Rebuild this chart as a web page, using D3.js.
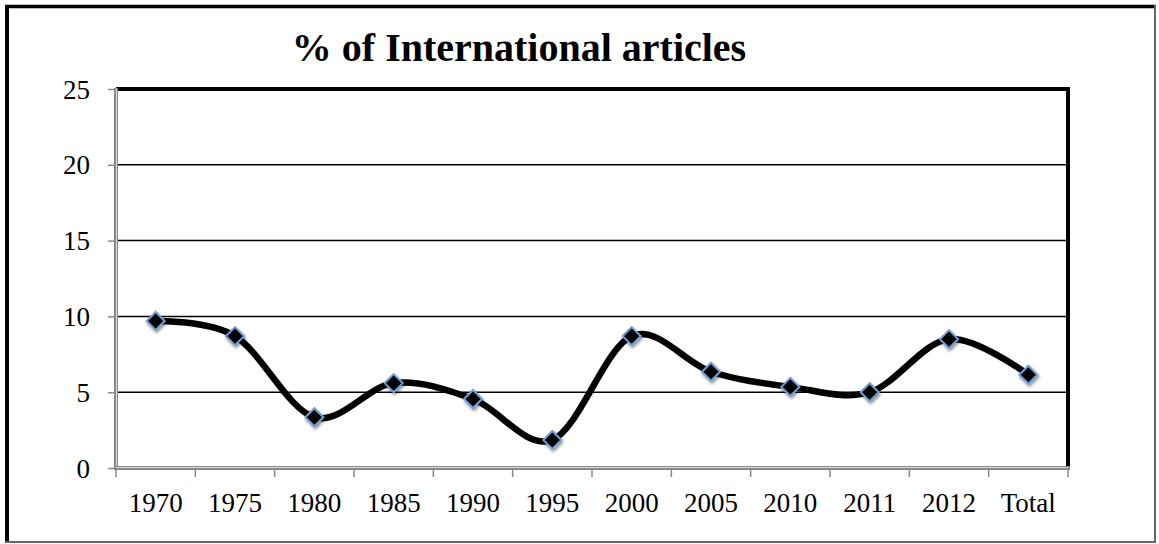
<!DOCTYPE html>
<html>
<head>
<meta charset="utf-8">
<script src="https://cdn.jsdelivr.net/npm/d3@7"></script>
<style>
  body { margin: 0; background: #fff; }
  text { font-family: "Liberation Serif", "Times New Roman", serif; fill: #000; }
</style>
</head>
<body>
<div id="chart"></div>
<script>
// chart data
var categories = ["1970", "1975", "1980", "1985", "1990", "1995", "2000", "2005", "2010", "2011", "2012", "Total"];
var values = [9.7, 8.7, 3.35, 5.6, 4.55, 1.85, 8.7, 6.35, 5.35, 5.0, 8.5, 6.15];
var yTicks = [0, 5, 10, 15, 20, 25];
var title = "% of International articles";

var W = 1159, H = 544;
var margin = {top: 89, bottom: 76, left: 116, right: 91},
  width = W - margin.left - margin.right,
  height = H - margin.top - margin.bottom;

var svg = d3.select("#chart")
  .append("svg")
  .attr("width", W)
  .attr("height", H);

// drop shadow for markers
var defs = svg.append("defs");
var filter = defs.append("filter")
  .attr("id", "shadow")
  .attr("x", "-50%").attr("y", "-50%")
  .attr("width", "200%").attr("height", "200%");
filter.append("feDropShadow")
  .attr("dx", 1).attr("dy", 2)
  .attr("stdDeviation", 1.5)
  .attr("flood-color", "#000")
  .attr("flood-opacity", 0.45);

// outer frame: thick top/left, thin grey right/bottom
svg.append("line").attr("x1", 7).attr("y1", 5).attr("x2", 7).attr("y2", 543)
  .attr("stroke", "#000").attr("stroke-width", 4);
svg.append("line").attr("x1", 5).attr("y1", 6.5).attr("x2", 1156).attr("y2", 6.5)
  .attr("stroke", "#000").attr("stroke-width", 3.5);
svg.append("line").attr("x1", 1155).attr("y1", 5).attr("x2", 1155).attr("y2", 543)
  .attr("stroke", "#666").attr("stroke-width", 2);
svg.append("line").attr("x1", 5).attr("y1", 542).attr("x2", 1156).attr("y2", 542)
  .attr("stroke", "#666").attr("stroke-width", 2);

// title
svg.append("text")
  .attr("x", 519)
  .attr("y", 61)
  .attr("text-anchor", "middle")
  .style("font-size", "40px")
  .style("font-weight", "bold")
  .text(title);

var g = svg.append("g")
  .attr("transform", "translate(" + margin.left + "," + margin.top + ")");

// scales
var x = d3.scaleBand()
  .domain(categories)
  .range([0, width]);

var y = d3.scaleLinear()
  .domain([0, 25])
  .range([height, 0]);

// gridlines
g.selectAll(".grid")
  .data(yTicks.filter(function(d) { return d > 0 && d < 25; }))
  .enter().append("line")
  .attr("class", "grid")
  .attr("x1", 0).attr("x2", width)
  .attr("y1", function(d) { return y(d); })
  .attr("y2", function(d) { return y(d); })
  .attr("stroke", "#000")
  .attr("stroke-width", 1.5);

// plot frame top and right (thick)
g.append("line").attr("x1", 0).attr("x2", width + 2).attr("y1", y(25)).attr("y2", y(25))
  .attr("stroke", "#000").attr("stroke-width", 4);
g.append("line").attr("x1", width).attr("x2", width).attr("y1", y(25) - 2).attr("y2", height)
  .attr("stroke", "#000").attr("stroke-width", 4);

// y axis
var yAxis = d3.axisLeft(y).tickValues(yTicks).tickSize(8).tickPadding(18);
var yg = g.append("g").attr("class", "y axis").call(yAxis);
yg.select(".domain").remove();
yg.selectAll(".tick line").attr("stroke", "#888").attr("stroke-width", 1.5);
yg.selectAll(".tick text")
  .attr("dy", "0.34em")
  .style("font-size", "27px");
yg.append("line").attr("x1", 0).attr("x2", 0).attr("y1", -1).attr("y2", height + 2)
  .attr("stroke", "#888").attr("stroke-width", 4);
yg.append("line").attr("x1", 0.5).attr("x2", 0.5).attr("y1", 0).attr("y2", height)
  .attr("stroke", "#ddd").attr("stroke-width", 1);

// x axis, ticks sit on the band edges
var xg = g.append("g")
  .attr("class", "x axis")
  .attr("transform", "translate(0," + height + ")");
xg.append("line").attr("x1", -2).attr("x2", width + 2).attr("y1", 0).attr("y2", 0)
  .attr("stroke", "#888").attr("stroke-width", 4);
xg.append("line").attr("x1", 0).attr("x2", width).attr("y1", -0.5).attr("y2", -0.5)
  .attr("stroke", "#ddd").attr("stroke-width", 1);
var edges = categories.map(function(c) { return x(c); }).concat([width]);
xg.selectAll(".edge")
  .data(edges)
  .enter().append("line")
  .attr("class", "edge")
  .attr("x1", function(d) { return d; }).attr("x2", function(d) { return d; })
  .attr("y1", 0).attr("y2", 9)
  .attr("stroke", "#888").attr("stroke-width", 1.5);
xg.selectAll(".lbl")
  .data(categories)
  .enter().append("text")
  .attr("class", "lbl")
  .attr("x", function(d) { return x(d) + x.bandwidth() / 2; })
  .attr("y", 44)
  .attr("text-anchor", "middle")
  .style("font-size", "27px")
  .text(function(d) { return d; });

// smoothed line
var line = d3.line()
  .x(function(d, i) { return x(categories[i]) + x.bandwidth() / 2; })
  .y(function(d) { return y(d); })
  .curve(d3.curveCardinal.tension(0));

g.append("path")
  .datum(values)
  .attr("d", line)
  .attr("fill", "none")
  .attr("stroke", "#000")
  .attr("stroke-width", 6.5)
  .attr("stroke-linejoin", "round");

// diamond markers
g.selectAll(".marker")
  .data(values)
  .enter().append("path")
  .attr("class", "marker")
  .attr("transform", function(d, i) {
    return "translate(" + (x(categories[i]) + x.bandwidth() / 2) + "," + y(d) + ")";
  })
  .attr("d", "M0,-9L9,0L0,9L-9,0Z")
  .attr("fill", "#000")
  .attr("stroke", "#6f9fd4")
  .attr("stroke-width", 2)
  .attr("filter", "url(#shadow)");
</script>
</body>
</html>
